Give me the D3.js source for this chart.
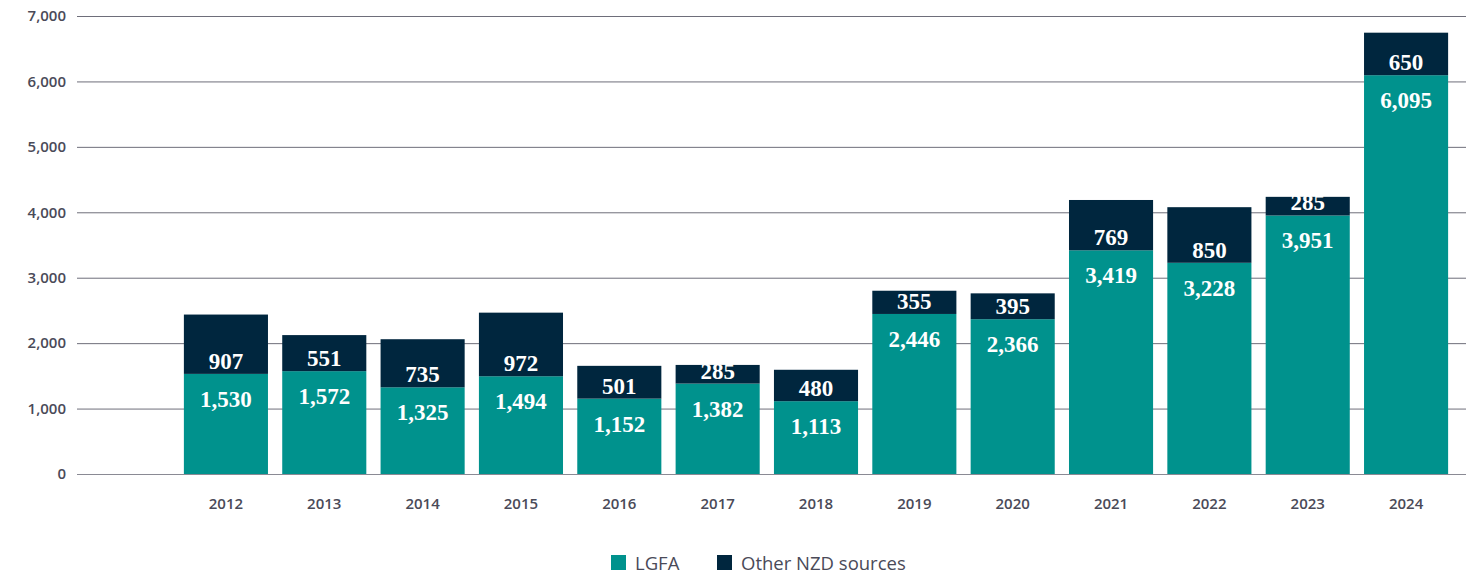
<!DOCTYPE html>
<html><head><meta charset="utf-8">
<script src="https://cdn.jsdelivr.net/npm/d3@7"></script>
<style>body{margin:0;background:#fff}svg{display:block}</style>
</head><body><svg id="c" width="1472" height="575"></svg>
<script>
const years = ["2012","2013","2014","2015","2016","2017","2018","2019","2020","2021","2022","2023","2024"];
const lgfa = [1530,1572,1325,1494,1152,1382,1113,2446,2366,3419,3228,3951,6095];
const other = [907,551,735,972,501,285,480,355,395,769,850,285,650];
const yTicks = [0,1000,2000,3000,4000,5000,6000,7000];
const seriesNames = ["LGFA","Other NZD sources"];
const colors = ["#00928d","#00263e"];

const svg = d3.select("#c");
const x = d3.scaleBand().domain(years).range([177,1455]).paddingInner(0.145).paddingOuter(0.07);
const y = d3.scaleLinear().domain([0,7000]).range([474,16]);
const fmt = d3.format(",");

svg.append("g").selectAll("line").data(yTicks).join("line")
  .attr("x1",77).attr("x2",1466).attr("y1",d=>y(d)+0.5).attr("y2",d=>y(d)+0.5)
  .attr("stroke",d=>d===0?"#8a8a94":"#6e6e7a").attr("stroke-width",1);
svg.append("g").selectAll("text").data(yTicks).join("text")
  .attr("x",66).attr("y",d=>y(d)).attr("dy","0.35em").attr("text-anchor","end")
  .attr("font-family","'Open Sans', sans-serif").attr("font-weight","600").attr("font-size",15)
  .attr("fill","#4a4a58").text(d=>fmt(d));

const data = years.map((yr,i)=>({yr,a:lgfa[i],b:other[i]}));
const g = svg.append("g");
g.selectAll("rect.a").data(data).join("rect").attr("class","a")
  .attr("x",d=>x(d.yr)).attr("width",x.bandwidth())
  .attr("y",d=>y(d.a)).attr("height",d=>y(0)-y(d.a)).attr("fill",colors[0]);
g.selectAll("rect.b").data(data).join("rect").attr("class","b")
  .attr("x",d=>x(d.yr)).attr("width",x.bandwidth())
  .attr("y",d=>y(d.a+d.b)).attr("height",d=>y(d.a)-y(d.a+d.b)).attr("fill",colors[1]);

const lab = {"font-family":"'Liberation Serif', 'DejaVu Serif', serif","font-weight":"700","font-size":23,"fill":"#fff","text-anchor":"middle"};
function applyAttrs(sel){for(const k in lab) sel.attr(k,lab[k]); return sel;}
applyAttrs(g.selectAll("text.a").data(data).join("text").attr("class","a")
  .attr("x",d=>x(d.yr)+x.bandwidth()/2).attr("y",d=>y(d.a)+33)).text(d=>fmt(d.a));
applyAttrs(g.selectAll("text.b").data(data).join("text").attr("class","b")
  .attr("x",d=>x(d.yr)+x.bandwidth()/2).attr("y",d=>y(d.a)-5)).text(d=>fmt(d.b));

svg.append("g").selectAll("text").data(years).join("text")
  .attr("x",d=>x(d)+x.bandwidth()/2).attr("y",504).attr("dy","0.35em").attr("text-anchor","middle")
  .attr("font-family","'Open Sans', sans-serif").attr("font-weight","600").attr("font-size",15)
  .attr("fill","#4a4a58").text(d=>d);

const legX = [611,717];
const lg = svg.append("g").selectAll("g").data(seriesNames).join("g")
  .attr("transform",(d,i)=>`translate(${legX[i]},555)`);
lg.append("rect").attr("width",15).attr("height",15).attr("fill",(d,i)=>colors[i]);
lg.append("text").attr("x",24).attr("y",15)
  .attr("font-family","'Open Sans', sans-serif").attr("font-size",18.5).attr("fill","#4a4a58").text(d=>d);
</script></body></html>
